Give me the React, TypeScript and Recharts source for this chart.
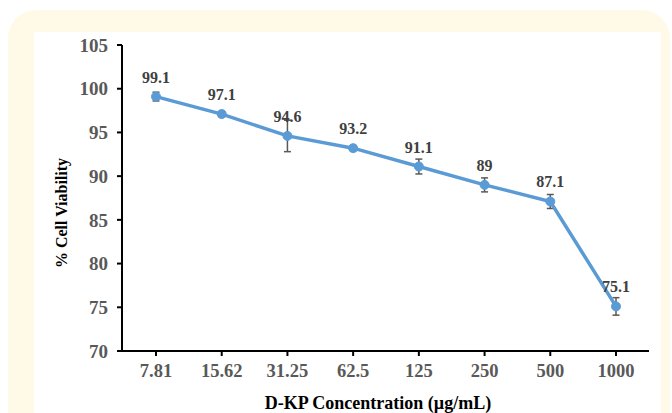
import * as React from "react";
import { ErrorBar, LabelList, Line, LineChart, XAxis, YAxis } from "recharts";

const concentrations = ["7.81", "15.62", "31.25", "62.5", "125", "250", "500", "1000"];
const viability = [99.1, 97.1, 94.6, 93.2, 91.1, 89, 87.1, 75.1];
const viabilityErr = [0.5, 0.3, 1.8, 0.3, 0.85, 0.8, 0.8, 1.0];
const yTicks = [70, 75, 80, 85, 90, 95, 100, 105];

const SERIF = '"Liberation Serif", "Times New Roman", serif';
const BLUE = "#5b9bd5";

const data = concentrations.map((c, i) => ({
  conc: c,
  value: viability[i],
  err: viabilityErr[i],
}));

export default function App() {
  return (
    <div style={{ position: "absolute", left: 0, top: 0, width: 672, height: 413, overflow: "hidden", background: "#fff" }}>
      <div
        style={{
          position: "absolute",
          left: 8,
          top: 10,
          width: 662,
          height: 440,
          background: "#fffae8",
          borderRadius: 28,
        }}
      />
      <div style={{ position: "absolute", left: 34, top: 32, width: 627, height: 381, background: "#fff" }}>
        <LineChart width={627} height={381} data={data} margin={{ top: 13, right: 12, bottom: 0, left: 0 }}>
          <XAxis
            dataKey="conc"
            height={62}
            padding={{ left: 34, right: 33 }}
            axisLine={{ stroke: "#000", strokeWidth: 2 }}
            tickLine={{ stroke: "#000", strokeWidth: 2 }}
            tickSize={5}
            tickMargin={8}
            tick={{ fill: "#595959", fontSize: 18.5, fontWeight: "bold", fontFamily: SERIF }}
            label={{
              content: () => (
                <text
                  x={344}
                  y={371}
                  textAnchor="middle"
                  dominantBaseline="central"
                  fill="#000"
                  fontSize={18}
                  fontWeight="bold"
                  fontFamily={SERIF}
                >
                  D-KP Concentration (µg/mL)
                </text>
              ),
            }}
          />
          <XAxis xAxisId="top" orientation="top" dataKey="conc" height={0} tick={false} tickLine={false} axisLine={{ stroke: "#000", strokeWidth: 2 }} />
          <YAxis
            width={88}
            domain={[70, 105]}
            ticks={yTicks}
            interval={0}
            axisLine={{ stroke: "#000", strokeWidth: 2 }}
            tickLine={{ stroke: "#000", strokeWidth: 2 }}
            tickSize={5}
            tickMargin={9}
            tick={{ fill: "#595959", fontSize: 19, fontWeight: "bold", fontFamily: SERIF }}
            label={{
              content: () => (
                <text
                  x={27}
                  y={181}
                  transform="rotate(-90 27 181)"
                  textAnchor="middle"
                  dominantBaseline="central"
                  fill="#000"
                  fontSize={16}
                  fontWeight="bold"
                  fontFamily={SERIF}
                >
                  % Cell Viability
                </text>
              ),
            }}
          />
          <YAxis yAxisId="right" orientation="right" width={0} domain={[70, 105]} tick={false} tickLine={false} axisLine={{ stroke: "#000", strokeWidth: 2 }} />
          <Line
            type="linear"
            dataKey="value"
            stroke={BLUE}
            strokeWidth={3.5}
            dot={{ r: 4.5, fill: BLUE, stroke: BLUE, strokeWidth: 1 }}
            isAnimationActive={false}
          >
            <ErrorBar dataKey="err" direction="y" width={3.5} stroke="#595959" strokeWidth={1.5} />
            <LabelList
              dataKey="value"
              position="top"
              offset={14}
              fill="#404040"
              fontSize={16}
              fontWeight="bold"
              fontFamily={SERIF}
            />
          </Line>
        </LineChart>
      </div>
    </div>
  );
}
